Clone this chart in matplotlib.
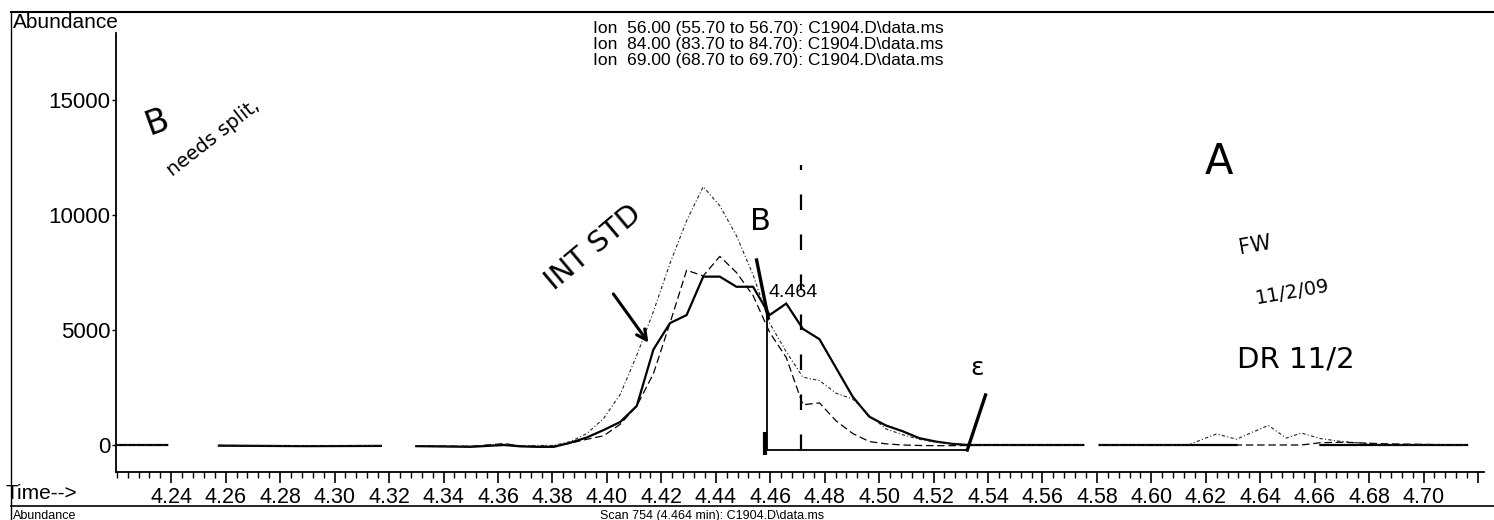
import matplotlib
matplotlib.use('Agg')
import matplotlib.pyplot as plt
from matplotlib.lines import Line2D
from matplotlib.ticker import MultipleLocator, FixedLocator
import numpy as np

nan = np.nan

# scan times (min) shared by the three ion traces; nan rows are the faded gaps of the print
scan_time = [4.2200, 4.2385, 4.2480, 4.2575, 4.2900, 4.3170, 4.3235, 4.3300, 4.3500, 4.3622,
             4.3683, 4.3744, 4.3805, 4.3866, 4.3927, 4.3988, 4.4049, 4.4110, 4.4171, 4.4232,
             4.4293, 4.4354, 4.4415, 4.4476, 4.4537, 4.4598, 4.4659, 4.4720, 4.4781, 4.4842,
             4.4903, 4.4964, 4.5025, 4.5086, 4.5147, 4.5208, 4.5269, 4.5330, 4.5500, 4.5750,
             4.5780, 4.5810, 4.6040, 4.6135, 4.6239, 4.6313, 4.6370, 4.6430, 4.6496, 4.6551,
             4.6621, 4.6700, 4.6864, 4.7160]

ion56 = [0, 0, nan, -30, -50, -40, nan, -50, -80, 0,
         -60, -80, -80, 100, 330, 650, 1000, 1700, 4150, 5300,
         5650, 7320, 7320, 6880, 6880, 5650, 6150, 5050, 4600, 3350,
         2100, 1230, 850, 600, 300, 150, 50, 0, 0, 0,
         nan, 0, 0, 0, 0, 0, nan, nan, nan, nan,
         0, 0, 0, 0]

ion84 = [0, 0, nan, -20, -40, -30, nan, -40, -60, 60,
         -40, -60, -50, 80, 250, 400, 900, 1700, 3100, 5300,
         7600, 7350, 8200, 7500, 6500, 4900, 3800, 1750, 1830, 1050,
         500, 150, 50, 0, -20, -30, -30, -20, 0, 0,
         nan, 0, 0, 0, 0, 0, 0, 0, 0, 0,
         100, 120, 50, 0]

ion69 = [0, 0, nan, -10, -30, -20, nan, -30, -50, 40,
         -30, -20, -20, 150, 500, 1150, 2200, 3900, 5800, 7900,
         9750, 11230, 10400, 9100, 7400, 5300, 4050, 2950, 2800, 2250,
         2000, 1300, 700, 450, 250, 120, 50, 0, 0, 0,
         nan, 0, 0, 0, 480, 250, 550, 850, 300, 520,
         280, 150, 0, 0]

ion_labels = ['Ion  56.00 (55.70 to 56.70): C1904.D\\data.ms',
              'Ion  84.00 (83.70 to 84.70): C1904.D\\data.ms',
              'Ion  69.00 (68.70 to 69.70): C1904.D\\data.ms']

x_major = [4.24, 4.26, 4.28, 4.30, 4.32, 4.34, 4.36, 4.38, 4.40, 4.42, 4.44, 4.46,
           4.48, 4.50, 4.52, 4.54, 4.56, 4.58, 4.60, 4.62, 4.64, 4.66, 4.68, 4.70, 4.72]
y_major = [0, 5000, 10000, 15000]

# integration marks
rt_label = '4.464'
int_start = 4.4590
int_end = 4.5324
int_start_height = 5650
int_base = -220
split_time = 4.4712

W, H = 1494, 520
plt.rcParams['font.family'] = ['Liberation Sans', 'DejaVu Sans']

fig = plt.figure(figsize=(W / 100, H / 100), dpi=100)
ax = fig.add_axes([116 / W, 1 - 472 / H, (1484 - 116) / W, (472 - 33) / H])

ax.plot(scan_time, ion56, color='black', lw=1.6, solid_joinstyle='miter')
ax.plot(scan_time, ion84, color='black', lw=0.9, dashes=(6, 3))
ax.plot(scan_time, ion69, color='#222222', lw=0.8, dashes=(3, 2, 1, 2))

# integration: drop line, baseline, rt label, hand drawn split line
ax.vlines(int_start, int_base, int_start_height, color='black', lw=1.3)
ax.vlines(int_start - 0.0008, int_base - 200, 560, color='black', lw=3)
ax.hlines(int_base, int_start, int_end, color='black', lw=1.3)
ax.text(int_start + 0.0005, 6630, rt_label, fontsize=14, va='center', ha='left')
ax.vlines(split_time, -200, 12170, color='black', lw=1.6, linestyles=(0, (7, 11)))

ax.set_xlim(4.2197, 4.7222)
ax.set_ylim(-1174, 17913)
ax.xaxis.set_major_locator(FixedLocator(x_major))
ax.set_xticklabels([f'{v:.2f}' for v in x_major[:-1]] + [''])
ax.xaxis.set_minor_locator(MultipleLocator(0.004))
ax.yaxis.set_major_locator(FixedLocator(y_major))
ax.tick_params(axis='x', which='major', length=8, width=1.2, labelsize=15.5, pad=3)
ax.tick_params(axis='x', which='minor', length=4, width=1.0)
ax.tick_params(axis='y', which='major', length=3, width=1.0, labelsize=16, pad=1)
for side in ['top', 'right']:
    ax.spines[side].set_visible(False)
for side in ['left', 'bottom']:
    ax.spines[side].set_linewidth(1.3)

# handwritten notes
hand = dict(family='DejaVu Sans', color='black', ha='center', va='center')
ax.text(4.2350, 14040, 'B', fontsize=24, rotation=20, **hand)
ax.text(4.2555, 13350, 'needs split,', fontsize=14, rotation=38, **hand)
ax.text(4.3950, 8600, 'INT STD', fontsize=21, rotation=40, **hand)
ax.annotate('', xy=(4.4159, 4348), xytext=(4.4018, 6665),
            arrowprops=dict(arrowstyle='->', lw=2.2, color='black', mutation_scale=18))
ax.text(4.4563, 9700, 'B', fontsize=22, **hand)
ax.plot([4.4550, 4.4593], [8044, 5522], color='black', lw=2.4)
ax.text(4.5360, 3350, 'ε', fontsize=18, **hand)
ax.plot([4.5391, 4.5324], [2174, -217], color='black', lw=2.4)
ax.text(4.6250, 12300, 'A', fontsize=30, **hand)
ax.text(4.6380, 8700, 'FW', fontsize=15, rotation=10, **hand)
ax.text(4.6520, 6650, '11/2/09', fontsize=14, rotation=10, **hand)
ax.text(4.6530, 3700, 'DR 11/2', fontsize=21, **hand)

# page furniture of the printout
fig.add_artist(Line2D([11 / W, 1], [1 - 12 / H] * 2, color='black', lw=1.5))
fig.add_artist(Line2D([11 / W] * 2, [0, 1 - 12 / H], color='black', lw=1.0))
fig.add_artist(Line2D([11 / W, 1], [1 - 506 / H] * 2, color='black', lw=1.2))
fig.text(13 / W, 1 - 28 / H, 'Abundance', fontsize=15, va='baseline')
for i, label in enumerate(ion_labels):
    fig.text(593 / W, 1 - (33 + 16 * i) / H, label, fontsize=12.5, va='baseline')
fig.text(5 / W, 1 - 499 / H, 'Time-->', fontsize=15, va='baseline')
fig.text(13 / W, 1 - 519 / H, 'Abundance', fontsize=9, va='baseline')
fig.text(600 / W, 1 - 519 / H, 'Scan 754 (4.464 min): C1904.D\\data.ms', fontsize=9, va='baseline')

fig.savefig('out.png', dpi=100, facecolor='white')
